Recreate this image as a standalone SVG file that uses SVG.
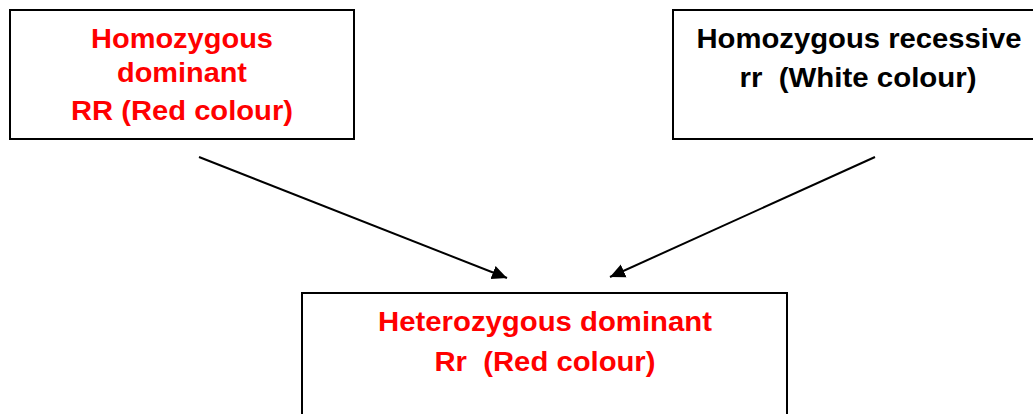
<svg xmlns="http://www.w3.org/2000/svg" width="1033" height="414" viewBox="0 0 1033 414">
  <style>
    .box { fill: #ffffff; stroke: #000000; stroke-width: 2; }
    .t { font-family: "Liberation Sans", Arial, sans-serif; font-weight: bold; font-size: 27px; text-anchor: middle; white-space: pre; }
    .red { fill: #ff0000; }
    .blk { fill: #000000; }
    .edge { stroke: #000000; stroke-width: 2; fill: none; }
  </style>
  <defs>
    <marker id="arrow" markerUnits="userSpaceOnUse" markerWidth="16" markerHeight="16" viewBox="0 0 16 16" refX="15" refY="8" orient="auto">
      <path d="M0,1 L15,8 L0,15 Z" fill="#000000"/>
    </marker>
  </defs>
  <rect width="1033" height="414" fill="#ffffff"/>
  <g id="node-homozygous-dominant">
    <rect class="box" x="10" y="10" width="344" height="129"/>
    <text class="t red" x="182" y="48" textLength="182" lengthAdjust="spacingAndGlyphs">Homozygous</text>
    <text class="t red" x="182" y="82" textLength="130" lengthAdjust="spacingAndGlyphs">dominant</text>
    <text class="t red" x="182" y="120" textLength="222" lengthAdjust="spacingAndGlyphs">RR (Red colour)</text>
  </g>
  <g id="node-homozygous-recessive">
    <rect class="box" x="673" y="10" width="380" height="129"/>
    <text class="t blk" x="859" y="48" textLength="325" lengthAdjust="spacingAndGlyphs">Homozygous recessive</text>
    <text class="t blk" x="858" y="87" textLength="237" lengthAdjust="spacingAndGlyphs">rr  (White colour)</text>
  </g>
  <g id="node-heterozygous-dominant">
    <rect class="box" x="302" y="293" width="485" height="140"/>
    <text class="t red" x="545" y="331" textLength="334" lengthAdjust="spacingAndGlyphs">Heterozygous dominant</text>
    <text class="t red" x="545" y="371" textLength="221" lengthAdjust="spacingAndGlyphs">Rr  (Red colour)</text>
  </g>
  <g id="connectors">
    <line class="edge" x1="199" y1="157" x2="507" y2="278" marker-end="url(#arrow)"/>
    <line class="edge" x1="875" y1="157" x2="610" y2="277" marker-end="url(#arrow)"/>
  </g>
</svg>
